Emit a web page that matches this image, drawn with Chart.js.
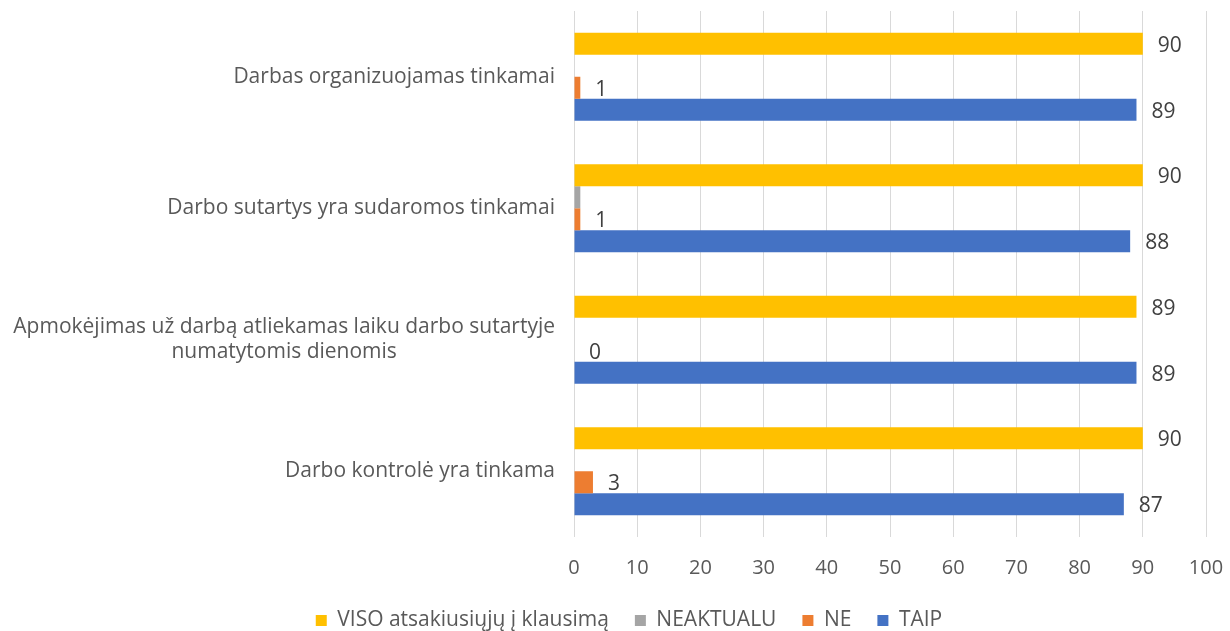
<!DOCTYPE html>
<html>
<head>
<meta charset="utf-8">
<script src="https://cdn.jsdelivr.net/npm/chart.js@4/dist/chart.umd.min.js"></script>
<style>
  body { margin: 0; background: #fff; }
  #wrap { width: 1230px; height: 631px; }
</style>
</head>
<body>
<div id="wrap"><canvas id="c"></canvas></div>
<script>
// data
const categories = [
  "Darbas organizuojamas tinkamai",
  "Darbo sutartys yra sudaromos tinkamai",
  ["Apmokėjimas už darbą atliekamas laiku darbo sutartyje", "numatytomis dienomis"],
  "Darbo kontrolė yra tinkama"
];
const viso = [90, 90, 89, 90];
const neaktualu = [0, 1, 0, 0];
const ne = [1, 1, 0, 3];
const taip = [89, 88, 89, 87];
const xTicks = [0, 10, 20, 30, 40, 50, 60, 70, 80, 90, 100];

const FONT = "'Open Sans', sans-serif";
const TEXT = '#595959';
const PAD_LEFT = 52;

// values next to the bars
const valueLabels = {
  id: 'valueLabels',
  afterDatasetsDraw(chart) {
    const ctx = chart.ctx;
    ctx.save();
    ctx.font = '21px ' + FONT;
    ctx.fillStyle = '#404040';
    ctx.textAlign = 'left';
    ctx.textBaseline = 'middle';
    chart.data.datasets.forEach((ds, i) => {
      if (!ds.showValues) return;
      chart.getDatasetMeta(i).data.forEach((bar, j) => {
        ctx.fillText(ds.data[j], bar.x + 15, bar.y + 2);
      });
    });
    ctx.restore();
  }
};

// category names: block right aligned, lines centred inside it (like Excel)
const catLabels = {
  id: 'catLabels',
  afterDraw(chart) {
    const y = chart.scales.y;
    const ctx = chart.ctx;
    ctx.save();
    ctx.font = '21px ' + FONT;
    ctx.fillStyle = TEXT;
    ctx.textAlign = 'center';
    ctx.textBaseline = 'middle';
    const lh = 25;
    chart.data.labels.forEach((lab, i) => {
      const lines = Array.isArray(lab) ? lab : [lab];
      const w = Math.max(...lines.map(l => ctx.measureText(l).width));
      const cx = y.right - 19 - w / 2;
      const cy = y.getPixelForTick(i);
      lines.forEach((l, k) => {
        ctx.fillText(l, cx, cy + (k - (lines.length - 1) / 2) * lh);
      });
    });
    ctx.restore();
  }
};

new Chart(document.getElementById('c'), {
  type: 'bar',
  data: {
    labels: categories,
    datasets: [
      { label: 'VISO atsakiusiųjų į klausimą', data: viso, backgroundColor: '#FFC000', showValues: true },
      { label: 'NEAKTUALU', data: neaktualu, backgroundColor: '#A5A5A5', showValues: false },
      { label: 'NE', data: ne, backgroundColor: '#ED7D31', showValues: true },
      { label: 'TAIP', data: taip, backgroundColor: '#4472C4', showValues: true }
    ]
  },
  options: {
    indexAxis: 'y',
    responsive: true,
    maintainAspectRatio: false,
    animation: false,
    datasets: { bar: { barPercentage: 1, categoryPercentage: 0.67 } },
    layout: { padding: { top: 11, right: 24, bottom: -10, left: PAD_LEFT } },
    scales: {
      x: {
        min: 0, max: 100,
        afterBuildTicks(s) { s.ticks = xTicks.map(v => ({ value: v })); },
        afterFit(s) { s.height = 47; s.paddingLeft = 0; s.paddingRight = 0; },
        grid: { color: '#D9D9D9', lineWidth: 1, drawTicks: false },
        border: { display: false },
        ticks: { color: TEXT, font: { size: 20, family: FONT }, padding: 19 }
      },
      y: {
        afterFit(s) { s.width = 574 - PAD_LEFT; s.paddingTop = 0; s.paddingBottom = 0; },
        grid: { display: false },
        border: { display: false },
        ticks: { color: 'rgba(0,0,0,0)', font: { size: 21, family: FONT } }
      }
    },
    plugins: {
      legend: {
        position: 'bottom',
        labels: {
          boxWidth: 11, boxHeight: 11, padding: 26,
          color: TEXT, font: { size: 21, family: FONT }
        }
      },
      tooltip: { enabled: false }
    }
  },
  plugins: [valueLabels, catLabels]
});
</script>
</body>
</html>
